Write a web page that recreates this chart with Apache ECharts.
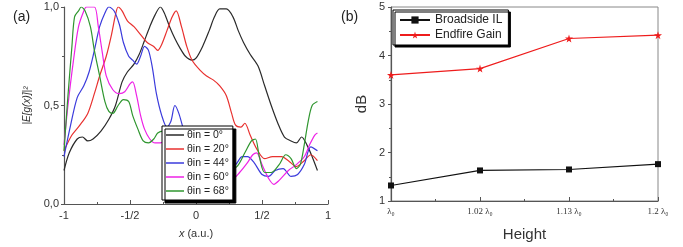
<!DOCTYPE html>
<html>
<head>
<meta charset="utf-8">
<script src="https://cdn.jsdelivr.net/npm/echarts@6/dist/echarts.min.js"></script>
<style>
  html, body { margin: 0; padding: 0; background: #fff; }
  #chart { width: 683px; height: 247px; }
</style>
</head>
<body>
<div id="chart"></div>
<script>
// panel (a): |E[g(x)]|^2 vs x, one [x, y] list per incidence angle
const angleNames = ['θin = 0°', 'θin = 20°', 'θin = 44°', 'θin = 60°', 'θin = 68°']
const theta0 = [[-1, 0.17], [-0.96, 0.26], [-0.9, 0.33], [-0.86, 0.34], [-0.82, 0.32], [-0.78, 0.33], [-0.72, 0.37], [-0.66, 0.43], [-0.61, 0.5], [-0.56, 0.62], [-0.52, 0.67], [-0.47, 0.71], [-0.43, 0.76], [-0.39, 0.83], [-0.35, 0.9], [-0.31, 0.96], [-0.27, 1.0], [-0.24, 0.97], [-0.2, 0.9], [-0.16, 0.84], [-0.12, 0.79], [-0.08, 0.75], [-0.03, 0.73], [0.0, 0.74], [0.05, 0.8], [0.1, 0.88], [0.14, 0.95], [0.18, 0.99], [0.23, 0.99], [0.28, 0.95], [0.32, 0.88], [0.36, 0.82], [0.41, 0.76], [0.47, 0.7], [0.52, 0.6], [0.57, 0.5], [0.62, 0.41], [0.67, 0.34], [0.72, 0.32], [0.76, 0.31], [0.8, 0.34], [0.84, 0.3], [0.88, 0.24], [0.92, 0.17]]
const theta20 = [[-1, 0.27], [-0.94, 0.35], [-0.88, 0.4], [-0.82, 0.46], [-0.77, 0.56], [-0.73, 0.65], [-0.68, 0.75], [-0.64, 0.86], [-0.61, 0.96], [-0.59, 1.0], [-0.56, 0.98], [-0.52, 0.93], [-0.47, 0.9], [-0.42, 0.86], [-0.37, 0.82], [-0.32, 0.8], [-0.29, 0.78], [-0.26, 0.81], [-0.22, 0.88], [-0.18, 0.95], [-0.15, 0.98], [-0.11, 0.9], [-0.07, 0.8], [-0.03, 0.73], [0.03, 0.68], [0.08, 0.65], [0.13, 0.63], [0.18, 0.6], [0.23, 0.55], [0.27, 0.46], [0.3, 0.4], [0.34, 0.39], [0.37, 0.41], [0.41, 0.35], [0.46, 0.28], [0.52, 0.23], [0.58, 0.24], [0.65, 0.24], [0.7, 0.22], [0.76, 0.19], [0.82, 0.22], [0.87, 0.25], [0.92, 0.22]]
const theta44 = [[-1, 0.24], [-0.95, 0.4], [-0.9, 0.54], [-0.85, 0.6], [-0.81, 0.67], [-0.77, 0.78], [-0.73, 0.9], [-0.69, 0.97], [-0.66, 1.0], [-0.62, 0.98], [-0.58, 0.91], [-0.55, 0.82], [-0.51, 0.75], [-0.48, 0.73], [-0.45, 0.71], [-0.42, 0.75], [-0.39, 0.8], [-0.36, 0.78], [-0.33, 0.69], [-0.3, 0.56], [-0.26, 0.45], [-0.22, 0.39], [-0.19, 0.42], [-0.16, 0.5], [-0.13, 0.46], [-0.09, 0.37], [-0.04, 0.3], [0.05, 0.25], [0.15, 0.2], [0.24, 0.18], [0.3, 0.2], [0.35, 0.24], [0.39, 0.24], [0.44, 0.21], [0.5, 0.15], [0.55, 0.14], [0.6, 0.17], [0.66, 0.18], [0.72, 0.14], [0.77, 0.15], [0.82, 0.2], [0.87, 0.29], [0.92, 0.27]]
const theta60 = [[-1, 0.3], [-0.97, 0.5], [-0.93, 0.72], [-0.89, 0.9], [-0.85, 0.98], [-0.83, 1.0], [-0.77, 1.0], [-0.74, 0.9], [-0.71, 0.77], [-0.68, 0.65], [-0.63, 0.58], [-0.58, 0.56], [-0.54, 0.57], [-0.5, 0.61], [-0.48, 0.62], [-0.45, 0.55], [-0.42, 0.45], [-0.39, 0.38], [-0.35, 0.33], [-0.31, 0.31], [-0.27, 0.31], [-0.2, 0.33], [-0.1, 0.28], [0.05, 0.2], [0.2, 0.14], [0.28, 0.13], [0.33, 0.16], [0.39, 0.21], [0.43, 0.25], [0.46, 0.26], [0.5, 0.2], [0.55, 0.13], [0.59, 0.1], [0.63, 0.12], [0.7, 0.17], [0.76, 0.2], [0.82, 0.24], [0.86, 0.3], [0.9, 0.35], [0.92, 0.36]]
const theta68 = [[-1, 0.27], [-0.97, 0.55], [-0.94, 0.8], [-0.92, 0.95], [-0.89, 0.98], [-0.87, 1.0], [-0.84, 0.98], [-0.8, 0.9], [-0.77, 0.78], [-0.73, 0.65], [-0.69, 0.52], [-0.66, 0.47], [-0.63, 0.46], [-0.59, 0.5], [-0.55, 0.53], [-0.51, 0.52], [-0.48, 0.45], [-0.44, 0.38], [-0.4, 0.32], [-0.36, 0.31], [-0.32, 0.33], [-0.29, 0.36], [-0.25, 0.37], [-0.15, 0.33], [0.0, 0.26], [0.15, 0.2], [0.25, 0.18], [0.31, 0.19], [0.37, 0.26], [0.42, 0.32], [0.45, 0.33], [0.48, 0.24], [0.52, 0.16], [0.57, 0.16], [0.63, 0.2], [0.68, 0.25], [0.72, 0.23], [0.76, 0.18], [0.79, 0.2], [0.82, 0.3], [0.85, 0.42], [0.88, 0.5], [0.92, 0.52]]
const xTickLabels = { '-1': '-1', '-0.5': '-1/2', '0': '0', '0.5': '1/2', '1': '1' }
const yTickLabels = { '0': '0,0', '0.5': '0,5', '1': '1,0' }

// panel (b): dB vs height
const heightLabels = ['λ₀', '1.02 λ₀', '1.13 λ₀', '1.2 λ₀']
const broadsideIL = [1.32, 1.63, 1.65, 1.76]
const endfireGain = [3.6, 3.73, 4.35, 4.42]

const curveColors = ['#2a2a2a', '#e8312f', '#3b3bdc', '#ee22e6', '#2f962f']
const curves = [theta0, theta20, theta44, theta60, theta68]
const starPath = 'path://M50,0 L61,35 L98,35 L68,57 L79,91 L50,70 L21,91 L32,57 L2,35 L39,35 Z'

const chart = echarts.init(document.getElementById('chart'), null, { renderer: 'canvas' })

const axisLine = { onZero: false, lineStyle: { color: '#555', width: 1.2 } }
const xTick = { inside: true, length: 4, lineStyle: { color: '#555' } }
const yTick = { inside: false, length: 3, lineStyle: { color: '#555' } }
const minorStyle = { show: true, splitNumber: 2, length: 2, lineStyle: { color: '#555' } }

chart.setOption({
  animation: false,
  textStyle: { fontFamily: 'Liberation Sans, Arial, sans-serif' },
  title: [
    { text: '(a)', left: 8, top: 5, textStyle: { fontSize: 14, fontWeight: 'normal', color: '#222' } },
    { text: '(b)', left: 336, top: 5, textStyle: { fontSize: 14, fontWeight: 'normal', color: '#222' } }
  ],
  grid: [
    { left: 64, right: 355, top: 7, bottom: 43 },
    { left: 391, right: 25, top: 7, bottom: 43, show: true, borderColor: '#888', borderWidth: 1 }
  ],
  legend: [
    {
      data: angleNames,
      orient: 'vertical',
      left: 162, top: 126,
      icon: 'rect',
      itemWidth: 18, itemHeight: 1.5, itemGap: 2,
      padding: [3, 4, 3, 4],
      backgroundColor: '#fff',
      borderColor: '#000', borderWidth: 1,
      shadowColor: '#000', shadowOffsetX: 3, shadowOffsetY: 3, shadowBlur: 0,
      textStyle: { fontSize: 10.5, lineHeight: 12, color: '#222', padding: [0, 0, 0, -2] }
    },
    {
      data: ['Broadside IL', 'Endfire Gain'],
      orient: 'vertical',
      left: 393, top: 10,
      itemWidth: 30, itemHeight: 9, itemGap: 3,
      padding: [4, 6, 4, 6],
      backgroundColor: '#fff',
      borderColor: '#000', borderWidth: 1,
      shadowColor: '#000', shadowOffsetX: 2, shadowOffsetY: 2, shadowBlur: 0,
      textStyle: { fontSize: 12, color: '#222' }
    }
  ],
  xAxis: [
    {
      gridIndex: 0, type: 'value', min: -1, max: 1, interval: 0.5,
      name: '{i|x} (a.u.)', nameLocation: 'middle', nameGap: 24,
      nameTextStyle: { fontSize: 11, color: '#333', rich: { i: { fontSize: 11, color: '#333', fontStyle: 'italic' } } },
      axisLine: axisLine, axisTick: xTick, minorTick: minorStyle,
      splitLine: { show: false },
      axisLabel: { fontSize: 11, color: '#333', margin: 6, formatter: v => xTickLabels[String(v)] }
    },
    {
      gridIndex: 1, type: 'value', min: 0, max: 3, interval: 1,
      name: 'Height', nameLocation: 'middle', nameGap: 26,
      nameTextStyle: { fontSize: 15, color: '#333' },
      axisLine: axisLine, axisTick: xTick, minorTick: minorStyle,
      splitLine: { show: false },
      axisLabel: { fontSize: 9, color: '#333', margin: 6, fontFamily: 'Liberation Serif, serif', formatter: v => heightLabels[v] }
    }
  ],
  yAxis: [
    {
      gridIndex: 0, type: 'value', min: 0, max: 1, interval: 0.5,
      name: '|E[g(x)]|²', nameLocation: 'middle', nameGap: 32,
      nameTextStyle: { fontSize: 10, color: '#333', fontStyle: 'italic' },
      axisLine: Object.assign({ show: true }, axisLine), axisTick: yTick, minorTick: minorStyle,
      splitLine: { show: false },
      axisLabel: { fontSize: 11, color: '#333', margin: 5, formatter: v => yTickLabels[String(v)] }
    },
    {
      gridIndex: 1, type: 'value', min: 1, max: 5, interval: 1,
      name: 'dB', nameLocation: 'middle', nameGap: 22,
      nameTextStyle: { fontSize: 15, color: '#333' },
      axisLine: Object.assign({ show: true }, axisLine), axisTick: yTick, minorTick: minorStyle,
      splitLine: { show: false },
      axisLabel: { fontSize: 11, color: '#333', margin: 6 }
    }
  ],
  series: curves.map((c, i) => ({
    name: angleNames[i],
    type: 'line',
    xAxisIndex: 0, yAxisIndex: 0,
    data: c,
    symbol: 'none',
    smooth: 0.3,
    lineStyle: { color: curveColors[i], width: 1.2 },
    itemStyle: { color: curveColors[i] }
  })).concat([
    {
      name: 'Broadside IL', type: 'line', xAxisIndex: 1, yAxisIndex: 1,
      data: broadsideIL.map((v, i) => [i, v]),
      symbol: 'rect', symbolSize: 6,
      lineStyle: { color: '#111', width: 1.2 }, itemStyle: { color: '#111' }
    },
    {
      name: 'Endfire Gain', type: 'line', xAxisIndex: 1, yAxisIndex: 1,
      data: endfireGain.map((v, i) => [i, v]),
      symbol: starPath, symbolSize: 8,
      lineStyle: { color: '#ee1c1c', width: 1.2 }, itemStyle: { color: '#ee1c1c' }
    }
  ])
})
</script>
</body>
</html>
